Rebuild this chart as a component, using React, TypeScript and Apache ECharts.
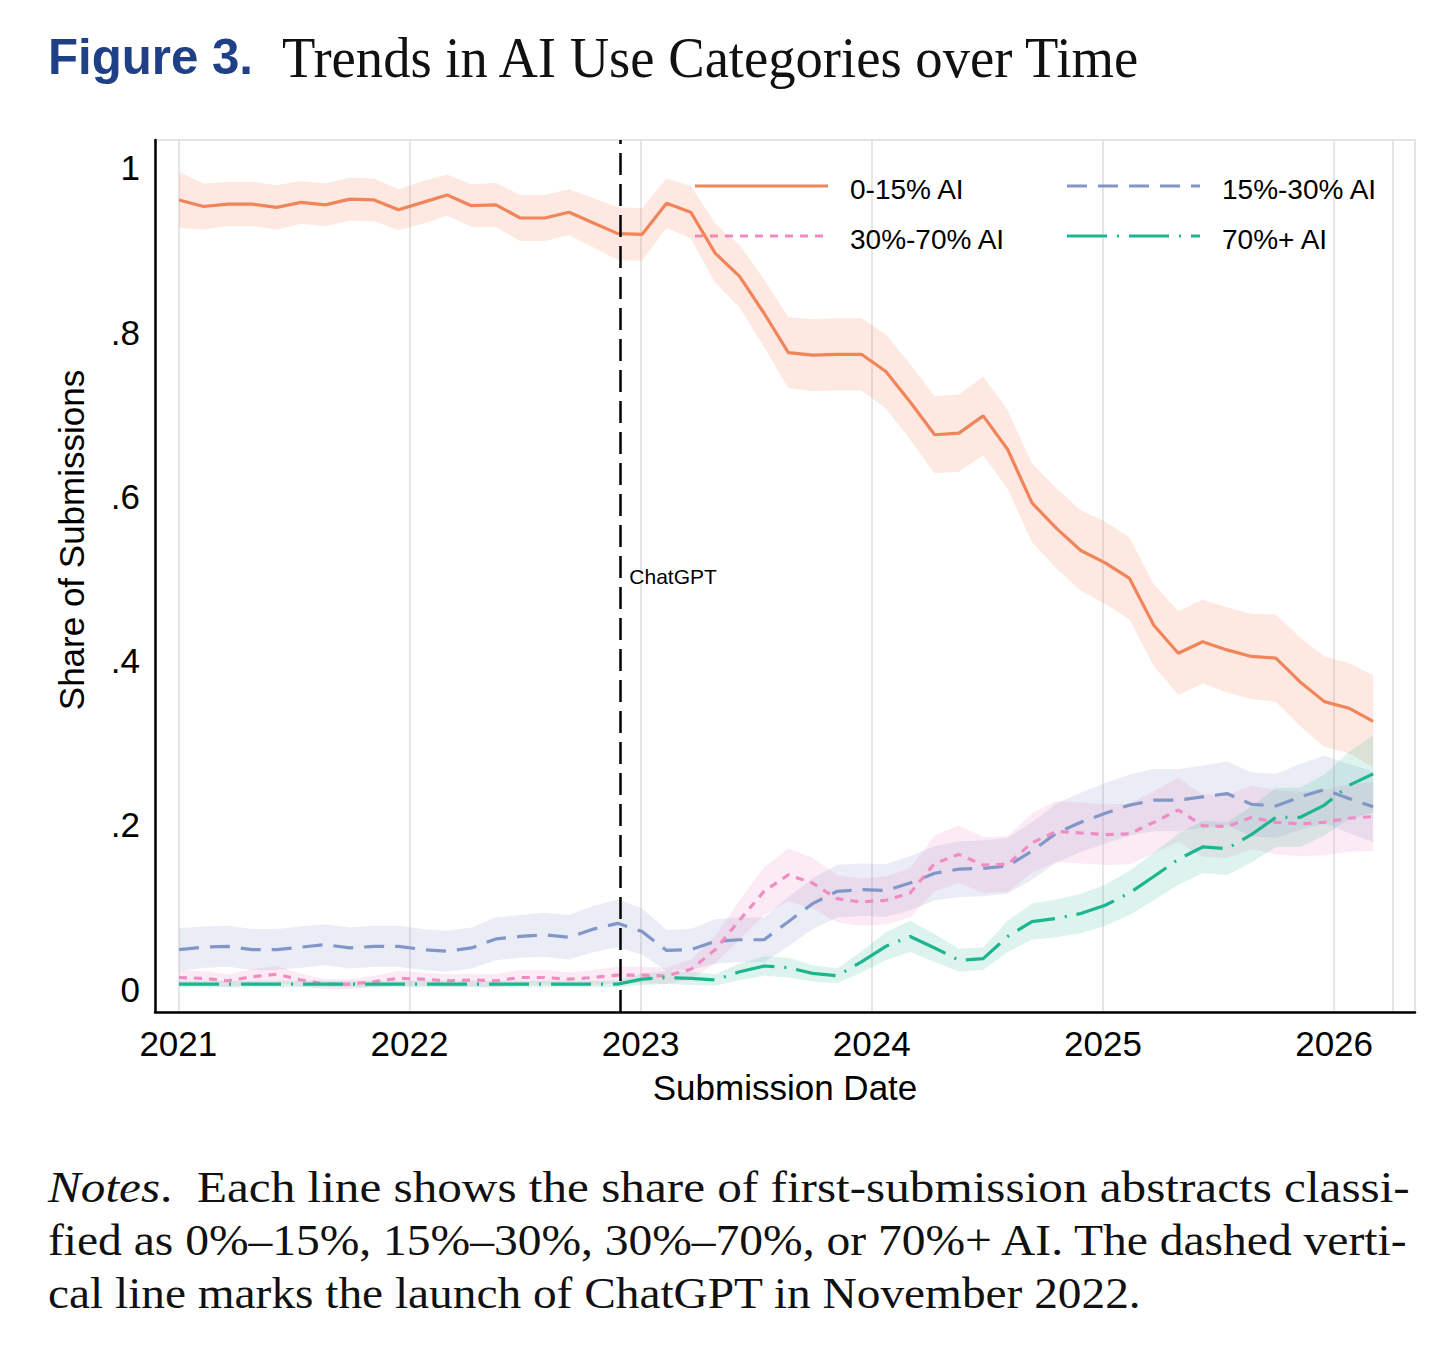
import React, { useEffect, useRef } from "react";
import * as echarts from "echarts";

// ---- data ----
const dates = [
  2021.003, 2021.109, 2021.214, 2021.32, 2021.425, 2021.531, 2021.636, 2021.741, 2021.847, 2021.952,
  2022.058, 2022.163, 2022.268, 2022.374, 2022.479, 2022.585, 2022.69, 2022.796, 2022.901, 2023.006,
  2023.112, 2023.217, 2023.323, 2023.428, 2023.534, 2023.639, 2023.744, 2023.85, 2023.955, 2024.061,
  2024.166, 2024.272, 2024.377, 2024.482, 2024.588, 2024.693, 2024.799, 2024.904, 2025.01, 2025.115,
  2025.22, 2025.326, 2025.431, 2025.537, 2025.642, 2025.748, 2025.853, 2025.958, 2026.064, 2026.169,
];

const share0to15 = [
  0.961, 0.953, 0.956, 0.956, 0.952, 0.958, 0.955, 0.962, 0.961, 0.949,
  0.958, 0.967, 0.954, 0.955, 0.939, 0.939, 0.946, 0.933, 0.92, 0.919,
  0.957, 0.946, 0.896, 0.868, 0.823, 0.775, 0.772, 0.773, 0.773, 0.752,
  0.715, 0.675, 0.677, 0.698, 0.657, 0.592, 0.561, 0.534, 0.519, 0.5,
  0.443, 0.409, 0.423, 0.413, 0.405, 0.403, 0.374, 0.35, 0.342, 0.326,
];
const ci0to15 = [
  0.034, 0.028, 0.027, 0.027, 0.027, 0.026, 0.026, 0.026, 0.026, 0.025,
  0.026, 0.025, 0.026, 0.027, 0.028, 0.028, 0.028, 0.03, 0.032, 0.032,
  0.03, 0.032, 0.036, 0.038, 0.041, 0.043, 0.044, 0.044, 0.044, 0.045,
  0.046, 0.047, 0.047, 0.048, 0.048, 0.048, 0.049, 0.049, 0.05, 0.05,
  0.05, 0.051, 0.051, 0.052, 0.052, 0.053, 0.054, 0.055, 0.055, 0.056,
];

const share15to30 = [
  0.048, 0.051, 0.052, 0.048, 0.048, 0.051, 0.054, 0.05, 0.052, 0.052,
  0.048, 0.046, 0.05, 0.061, 0.064, 0.066, 0.063, 0.073, 0.08, 0.07,
  0.047, 0.048, 0.058, 0.06, 0.06, 0.082, 0.104, 0.119, 0.121, 0.12,
  0.129, 0.141, 0.146, 0.147, 0.15, 0.168, 0.19, 0.203, 0.214, 0.224,
  0.23, 0.23, 0.234, 0.238, 0.225, 0.223, 0.234, 0.243, 0.232, 0.222,
];
const ci15to30 = [
  0.026, 0.025, 0.025, 0.025, 0.025, 0.025, 0.025, 0.025, 0.025, 0.025,
  0.025, 0.025, 0.025, 0.026, 0.026, 0.027, 0.027, 0.028, 0.029, 0.028,
  0.025, 0.025, 0.027, 0.027, 0.027, 0.03, 0.031, 0.032, 0.032, 0.032,
  0.033, 0.033, 0.034, 0.034, 0.034, 0.035, 0.036, 0.036, 0.037, 0.037,
  0.038, 0.038, 0.038, 0.039, 0.039, 0.039, 0.04, 0.041, 0.042, 0.043,
];

const share30to70 = [
  0.014, 0.013, 0.01, 0.015, 0.018, 0.011, 0.006, 0.006, 0.009, 0.013,
  0.012, 0.01, 0.011, 0.01, 0.014, 0.014, 0.012, 0.014, 0.017, 0.017,
  0.016, 0.024, 0.048, 0.084, 0.119, 0.139, 0.129, 0.11, 0.106, 0.108,
  0.117, 0.153, 0.164, 0.151, 0.152, 0.178, 0.192, 0.19, 0.188, 0.189,
  0.203, 0.218, 0.199, 0.198, 0.209, 0.203, 0.201, 0.203, 0.208, 0.21,
];
const ci30to70 = [
  0.009, 0.009, 0.008, 0.009, 0.01, 0.008, 0.006, 0.006, 0.007, 0.009,
  0.008, 0.008, 0.008, 0.008, 0.009, 0.009, 0.008, 0.009, 0.01, 0.01,
  0.01, 0.012, 0.017, 0.024, 0.029, 0.032, 0.031, 0.029, 0.029, 0.029,
  0.03, 0.034, 0.035, 0.034, 0.034, 0.036, 0.037, 0.037, 0.037, 0.037,
  0.038, 0.039, 0.038, 0.038, 0.039, 0.039, 0.039, 0.04, 0.041, 0.042,
];

const share70plus = [
  0.006, 0.006, 0.006, 0.006, 0.006, 0.006, 0.006, 0.006, 0.006, 0.006,
  0.006, 0.006, 0.006, 0.006, 0.006, 0.006, 0.006, 0.006, 0.006, 0.012,
  0.014, 0.013, 0.011, 0.021, 0.028, 0.026, 0.019, 0.016, 0.033, 0.052,
  0.064, 0.05, 0.035, 0.037, 0.064, 0.082, 0.086, 0.092, 0.102, 0.117,
  0.137, 0.158, 0.173, 0.171, 0.188, 0.209, 0.209, 0.224, 0.248, 0.262,
];
const ci70plus = [
  0.004, 0.004, 0.004, 0.004, 0.004, 0.004, 0.004, 0.004, 0.004, 0.004,
  0.004, 0.004, 0.004, 0.004, 0.004, 0.004, 0.004, 0.004, 0.004, 0.007,
  0.008, 0.008, 0.007, 0.01, 0.012, 0.012, 0.01, 0.009, 0.013, 0.017,
  0.019, 0.017, 0.014, 0.014, 0.019, 0.022, 0.023, 0.024, 0.025, 0.027,
  0.029, 0.031, 0.032, 0.032, 0.034, 0.036, 0.036, 0.037, 0.041, 0.047,
];

const seriesNames = ["0-15% AI", "15%-30% AI", "30%-70% AI", "70%+ AI"];
const xTickLabels = [2021, 2022, 2023, 2024, 2025, 2026];
const xGridValues = [2021, 2022, 2023, 2024, 2025, 2026, 2026.255];
const yTickLabels = [0, 0.2, 0.4, 0.6, 0.8, 1];
const chatGptDate = 2022.912;
const chatGptLabel = "ChatGPT";

const titleLabel = "Figure 3.";
const titleText = "Trends in AI Use Categories over Time";
const xAxisTitle = "Submission Date";
const yAxisTitle = "Share of Submissions";
const noteLines = [
  "Each line shows the share of first-submission abstracts classi-",
  "fied as 0%\u201315%, 15%\u201330%, 30%\u201370%, or 70%+ AI. The dashed verti-",
  "cal line marks the launch of ChatGPT in November 2022.",
];

// ---- styles ----
const SANS = "Liberation Sans";
const SERIF = "Liberation Serif";
const lineColors = ["#f2845a", "#8197c8", "#f08cc4", "#1bb590"];
const bandColors = [
  "rgba(244,132,92,0.18)",
  "rgba(128,150,200,0.17)",
  "rgba(240,140,196,0.18)",
  "rgba(27,181,144,0.15)",
];
const dashes: any[] = ["solid", [20, 11], [8, 7], [40, 10, 2, 10]];

function measure(text: string, font: string): number {
  const ctx = document.createElement("canvas").getContext("2d");
  if (!ctx) return text.length * 20;
  ctx.font = font;
  return ctx.measureText(text).width;
}

function bandSeries(name: string, values: number[], ci: number[], color: string) {
  const data = dates.map((d, i) => [d, values[i] - ci[i], values[i] + ci[i]]);
  return {
    type: "custom",
    name: name + " CI",
    silent: true,
    data,
    encode: { x: 0, y: [1, 2] },
    renderItem: (params: any, api: any) => {
      if (params.dataIndex !== 0) return null;
      const upper = data.map((p) => api.coord([p[0], p[2]]));
      const lower = data.map((p) => api.coord([p[0], p[1]])).reverse();
      return {
        type: "polygon",
        shape: { points: upper.concat(lower) },
        style: { fill: color },
      };
    },
  };
}

export default function App() {
  const ref = useRef<HTMLDivElement>(null);

  useEffect(() => {
    if (!ref.current) return;
    const chart = echarts.init(ref.current, undefined, { renderer: "svg" });
    const values = [share0to15, share15to30, share30to70, share70plus];
    const cis = [ci0to15, ci15to30, ci30to70, ci70plus];

    const bands = values.map((v, k) => bandSeries(seriesNames[k], v, cis[k], bandColors[k]));
    const lines = values.map((v, k) => {
      const s: any = {
        type: "line",
        name: seriesNames[k],
        data: dates.map((d, i) => [d, v[i]]),
        symbol: "none",
        silent: true,
        lineStyle: { color: lineColors[k], width: 3.2, type: dashes[k] },
      };
      if (k === 0) {
        s.markLine = {
          silent: true,
          symbol: ["none", "none"],
          label: { show: false },
          lineStyle: { color: "#000", width: 2.5, type: [22, 9] },
          data: [{ xAxis: chatGptDate }],
        };
      }
      return s;
    });

    chart.setOption({
      animation: false,
      textStyle: { fontFamily: SANS },
      grid: {
        left: 155,
        right: 41,
        top: 140,
        bottom: 335,
        show: true,
        borderColor: "#dcdcdc",
        borderWidth: 1.5,
        backgroundColor: "transparent",
      },
      xAxis: {
        type: "value",
        min: 2020.899,
        max: 2026.35,
        name: xAxisTitle,
        nameLocation: "middle",
        nameGap: 58,
        nameTextStyle: { fontSize: 35, color: "#000", fontFamily: SANS },
        axisLine: { show: true, onZero: false, lineStyle: { color: "#000", width: 2.5 } },
        axisTick: { show: false, customValues: xGridValues },
        axisLabel: {
          customValues: xTickLabels,
          fontSize: 35,
          color: "#000",
          margin: 14,
          fontFamily: SANS,
          formatter: (v: number) => String(Math.round(v)),
        },
        splitLine: { show: true, lineStyle: { color: "#dedede", width: 1.5 } },
      },
      yAxis: {
        type: "value",
        min: -0.028,
        max: 1.034,
        name: yAxisTitle,
        nameLocation: "middle",
        nameGap: 66,
        nameTextStyle: {
          fontSize: 35,
          color: "#000",
          fontFamily: SANS,
          padding: [0, 0, 0, 72],
        },
        axisLine: { show: true, onZero: false, lineStyle: { color: "#000", width: 2.5 } },
        axisTick: { show: false, customValues: yTickLabels },
        axisLabel: {
          customValues: yTickLabels,
          fontSize: 35,
          color: "#000",
          margin: 15,
          fontFamily: SANS,
          formatter: (v: number) => {
            if (Math.abs(v) < 1e-9) return "0";
            if (Math.abs(v - 1) < 1e-9) return "1";
            return v.toFixed(1).replace(/^0/, "");
          },
        },
        splitLine: { show: false },
      },
      series: [...bands, ...lines],
    });

    // ---- graphics: title, legend, ChatGPT label, notes ----
    const g: any[] = [];

    const figFont = `bold 50px "${SANS}"`;
    const figW = measure(titleLabel, figFont);
    g.push({
      type: "text",
      x: 48,
      y: 57,
      scaleX: 205 / figW,
      style: {
        text: titleLabel,
        fontSize: 50,
        fontWeight: "bold",
        fontFamily: SANS,
        fill: "#1f3f86",
        textAlign: "left",
        textVerticalAlign: "middle",
      },
    });
    const tFont = `56px "${SERIF}"`;
    const tW = measure(titleText, tFont);
    g.push({
      type: "text",
      x: 282,
      y: 58,
      scaleX: 860 / tW,
      style: {
        text: titleText,
        fontSize: 56,
        fontFamily: SERIF,
        fill: "#111",
        textAlign: "left",
        textVerticalAlign: "middle",
      },
    });

    // legend
    const legendPos = [
      [695, 186],
      [1067, 186],
      [695, 236],
      [1067, 236],
    ];
    seriesNames.forEach((name, k) => {
      const [lx, ly] = legendPos[k];
      g.push({
        type: "line",
        shape: { x1: lx, y1: ly, x2: lx + 133, y2: ly },
        style: {
          stroke: lineColors[k],
          lineWidth: 3.2,
          lineDash: dashes[k] === "solid" ? null : dashes[k],
        },
      });
      g.push({
        type: "text",
        x: lx + 155,
        y: ly + 3,
        style: {
          text: name,
          fontSize: 28,
          fontFamily: SANS,
          fill: "#000",
          textAlign: "left",
          textVerticalAlign: "middle",
        },
      });
    });

    // ChatGPT label next to the vertical line
    const p = chart.convertToPixel({ xAxisIndex: 0, yAxisIndex: 0 }, [chatGptDate, 0.502]) as number[];
    g.push({
      type: "text",
      x: p[0] + 9,
      y: p[1],
      style: {
        text: chatGptLabel,
        fontSize: 21,
        fontFamily: SANS,
        fill: "#000",
        textAlign: "left",
        textVerticalAlign: "middle",
      },
    });

    // notes (justified lines)
    const NFS = 44;
    const nFont = `${NFS}px "${SERIF}"`;
    const niFont = `italic ${NFS}px "${SERIF}"`;
    const targets = [1362, 1362, 1094];
    noteLines.forEach((line, i) => {
      const y = 1187 + i * 53;
      if (i === 0) {
        const w = measure("Notes", niFont) + measure(".  " + line, nFont);
        g.push({
          type: "text",
          x: 48,
          y,
          scaleX: targets[i] / w,
          style: {
            text: "{it|Notes}.  " + line,
            fontSize: NFS,
            fontFamily: SERIF,
            fill: "#111",
            textAlign: "left",
            textVerticalAlign: "middle",
            rich: { it: { fontStyle: "italic", fontSize: NFS, fontFamily: SERIF, fill: "#111" } },
          },
        });
      } else {
        const w = measure(line, nFont);
        g.push({
          type: "text",
          x: 48,
          y,
          scaleX: targets[i] / w,
          style: {
            text: line,
            fontSize: NFS,
            fontFamily: SERIF,
            fill: "#111",
            textAlign: "left",
            textVerticalAlign: "middle",
          },
        });
      }
    });

    chart.setOption({ graphic: g });

    return () => chart.dispose();
  }, []);

  return (
    <div
      ref={ref}
      style={{ position: "absolute", left: 0, top: 0, width: 1456, height: 1347, background: "#fff" }}
    />
  );
}
